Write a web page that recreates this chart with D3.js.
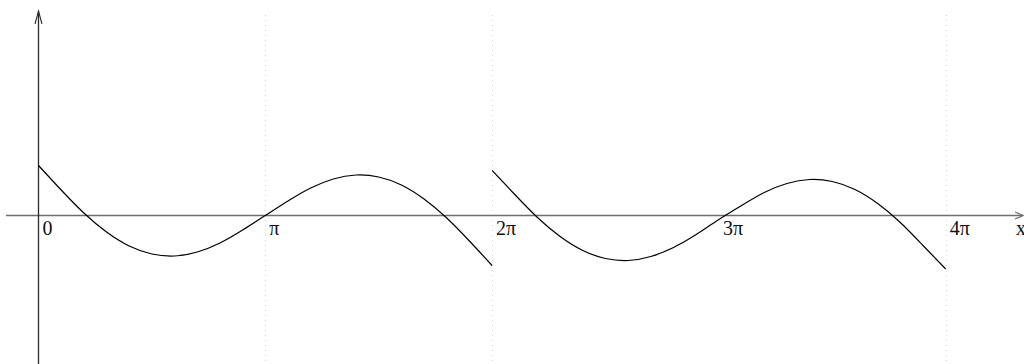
<!DOCTYPE html>
<html>
<head>
<meta charset="utf-8">
<script src="https://cdn.jsdelivr.net/npm/d3@7"></script>
<style>
  html, body { margin: 0; padding: 0; background: #fff; }
  svg { display: block; }
  .lbl { font-family: "Liberation Serif", "Times New Roman", serif; font-size: 20px; fill: #111; }
</style>
</head>
<body>
<svg id="chart" width="1024" height="364"></svg>
<script>
// x positions are in multiples of pi, values in plot units
const tickValues = [0, 1, 2, 3, 4];
const tickLabels = ["0", "\u03c0", "2\u03c0", "3\u03c0", "4\u03c0"];
const gridValues = [1, 2, 4];

const branch1X = [0, 0.1, 0.2, 0.3, 0.4, 0.5, 0.6, 0.7, 0.8, 0.9, 1.0, 1.1, 1.2, 1.3, 1.4, 1.5, 1.6, 1.7, 1.8, 1.9, 2.0];
const branch1Y = [1.0, 0.51, 0.05, -0.33, -0.61, -0.77, -0.81, -0.73, -0.55, -0.29, 0, 0.29, 0.55, 0.73, 0.81, 0.77, 0.61, 0.33, -0.05, -0.51, -1.0];

const branch2X = [2.0, 2.1, 2.2, 2.3, 2.4, 2.5, 2.6, 2.7, 2.8, 2.9, 3.0, 3.1, 3.2, 3.3, 3.4, 3.5, 3.6, 3.7, 3.8, 3.9, 4.0];
const branch2Y = [0.90, 0.42, -0.04, -0.42, -0.70, -0.86, -0.90, -0.82, -0.64, -0.38, -0.08, 0.20, 0.46, 0.64, 0.72, 0.68, 0.52, 0.24, -0.14, -0.60, -1.07];

const svg = d3.select("#chart");

const x = d3.scaleLinear().domain([0, 4]).range([38.5, 945.7]);
const y = d3.scaleLinear().domain([-2.97, 4.07]).range([364, 12]);

const x0 = x(0), y0 = y(0);

// dotted vertical guides
svg.append("g")
  .selectAll("line")
  .data(gridValues)
  .join("line")
  .attr("x1", d => Math.round(x(d)) + 0.5)
  .attr("x2", d => Math.round(x(d)) + 0.5)
  .attr("y1", 15)
  .attr("y2", 364)
  .attr("stroke", "#d4d4d4")
  .attr("stroke-width", 1)
  .attr("stroke-dasharray", "1,4");

// horizontal axis with arrow
svg.append("line")
  .attr("x1", 6).attr("x2", 1023)
  .attr("y1", y0).attr("y2", y0)
  .attr("stroke", "#6e6e6e").attr("stroke-width", 1.4);
svg.append("path")
  .attr("d", `M1015,${y0 - 3.5} L1023,${y0} L1015,${y0 + 3.5}`)
  .attr("fill", "none").attr("stroke", "#6e6e6e").attr("stroke-width", 1.2);

// vertical axis with arrow
svg.append("line")
  .attr("x1", x0).attr("x2", x0)
  .attr("y1", 11).attr("y2", 364)
  .attr("stroke", "#2a2a2a").attr("stroke-width", 1.3);
svg.append("path")
  .attr("d", `M${x0 - 3.5},24 L${x0},11 L${x0 + 3.5},24`)
  .attr("fill", "none").attr("stroke", "#2a2a2a").attr("stroke-width", 1.1);

// tick labels
svg.append("g")
  .selectAll("text")
  .data(tickValues)
  .join("text")
  .attr("class", "lbl")
  .attr("x", d => x(d) + 4)
  .attr("y", 235)
  .text((d, i) => tickLabels[i]);

svg.append("text")
  .attr("class", "lbl")
  .attr("x", 1016).attr("y", 235)
  .text("x");

// the two branches of the curve
const line = d3.line()
  .x(d => x(d[0]))
  .y(d => y(d[1]))
  .curve(d3.curveNatural);

[[branch1X, branch1Y], [branch2X, branch2Y]].forEach(([xs, ys]) => {
  svg.append("path")
    .datum(xs.map((v, i) => [v, ys[i]]))
    .attr("d", line)
    .attr("fill", "none")
    .attr("stroke", "#000")
    .attr("stroke-width", 1.2);
});
</script>
</body>
</html>
